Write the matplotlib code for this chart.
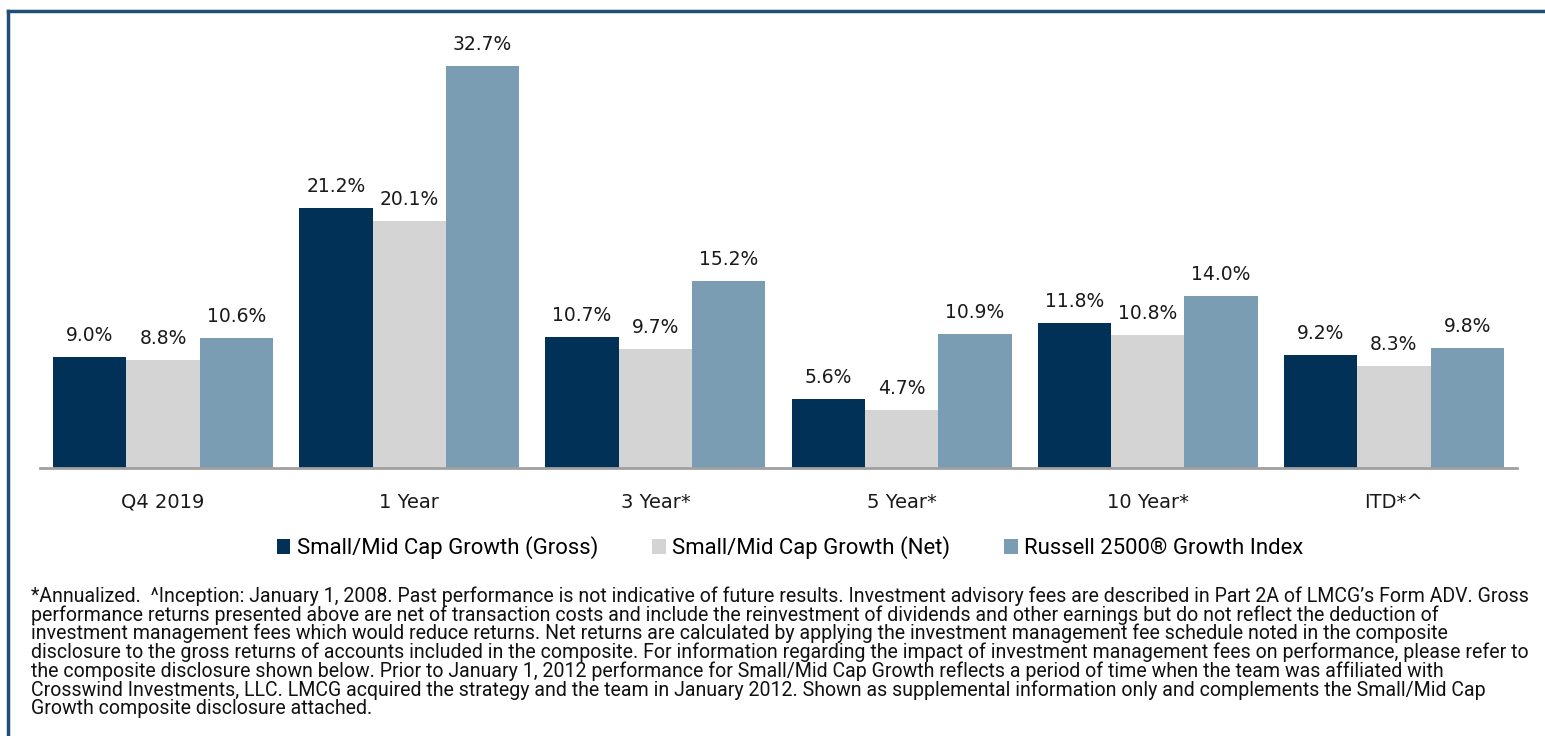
import numpy as np
import matplotlib.pyplot as plt
from matplotlib import font_manager
from matplotlib.lines import Line2D
from matplotlib.patches import Patch

categories = ["Q4 2019", "1 Year", "3 Year*", "5 Year*", "10 Year*", "ITD*^"]
gross = [9.0, 21.2, 10.7, 5.6, 11.8, 9.2]
net = [8.8, 20.1, 9.7, 4.7, 10.8, 8.3]
index = [10.6, 32.7, 15.2, 10.9, 14.0, 9.8]
series_names = [
    "Small/Mid Cap Growth (Gross)",
    "Small/Mid Cap Growth (Net)",
    "Russell 2500\u00ae Growth Index",
]
colors = ["#023158", "#d4d4d4", "#7a9db3"]

footnote = [
    "*Annualized.  ^Inception: January 1, 2008. Past performance is not indicative of future results. "
    "Investment advisory fees are described in Part 2A of LMCG\u2019s Form ADV. Gross",
    "performance returns presented above are net of transaction costs and include the reinvestment of "
    "dividends and other earnings but do not reflect the deduction of",
    "investment management fees which would reduce returns. Net returns are calculated by applying the "
    "investment management fee schedule noted in the composite",
    "disclosure to the gross returns of accounts included in the composite. For information regarding the "
    "impact of investment management fees on performance, please refer to",
    "the composite disclosure shown below. Prior to January 1, 2012 performance for Small/Mid Cap Growth "
    "reflects a period of time when the team was affiliated with",
    "Crosswind Investments, LLC. LMCG acquired the strategy and the team in January 2012. Shown as "
    "supplemental information only and complements the Small/Mid Cap",
    "Growth composite disclosure attached.",
]


def pick_font(names):
    for n in names:
        try:
            font_manager.findfont(n, fallback_to_default=False)
            return n
        except ValueError:
            pass
    return "DejaVu Sans"


narrow = pick_font(["Liberation Sans Narrow", "Roboto", "Open Sans"])

W, H = 1545, 736
fig = plt.figure(figsize=(W / 100, H / 100), dpi=100)

# axes placed in pixel terms of the reference
ax_left, ax_right, base_y, top_y = 40, 1517, 468, 38
ax = fig.add_axes([ax_left / W, (H - base_y) / H,
                   (ax_right - ax_left) / W, (base_y - top_y) / H])

x = np.arange(len(categories))
bw = 0.298
for i, (vals, c, name) in enumerate(zip([gross, net, index], colors, series_names)):
    bars = ax.bar(x + (i - 1) * bw, vals, bw, color=c, label=name)
    for b, v in zip(bars, vals):
        ax.annotate(f"{v:.1f}%", (b.get_x() + b.get_width() / 2, v),
                    xytext=(0, 12), textcoords="offset pixels",
                    ha="center", va="bottom", fontsize=13.5,
                    family="DejaVu Sans", color="#1a1a1a")

ax.set_xlim(-0.5, len(categories) - 0.5)
ax.set_ylim(0, 35)
ax.set_xticks(x)
ax.set_xticklabels(categories, fontsize=14, family="DejaVu Sans", color="#1a1a1a")
ax.tick_params(axis="x", length=0, pad=18)
ax.set_yticks([])
for s in ["top", "left", "right"]:
    ax.spines[s].set_visible(False)
ax.spines["bottom"].set_color("#a0a0a0")
ax.spines["bottom"].set_linewidth(2)

fig.canvas.draw()
renderer = fig.canvas.get_renderer()


def text_width(text, size):
    probe = fig.text(0, 0, text, fontsize=size, family=narrow)
    w = probe.get_window_extent(renderer).width
    probe.remove()
    return w


# legend sized to the reference: first entry text ~300 px, whole row 277..1304 px
leg_size = 12.0 * 300 / text_width(series_names[0], 12.0)
em_px = leg_size * 100 / 72
hl, htp = 0.62, 0.3
texts_w = sum(text_width(s, leg_size) for s in series_names)
gap_px = (1027 - texts_w - 3 * (hl + htp) * em_px) / 2
handles = [Patch(facecolor=c, edgecolor="none") for c in colors]
fig.legend(handles, series_names, loc="center", bbox_to_anchor=(790 / W, 1 - 548 / H),
           ncol=3, frameon=False, handlelength=hl, handleheight=0.62,
           handletextpad=htp, columnspacing=gap_px / em_px, borderpad=0,
           prop={"family": narrow, "size": leg_size})

# footnote, size fitted to the width of the reference text block
fn_size = 12.0 * 1490 / text_width(footnote[3], 12.0)
for i, line in enumerate(footnote):
    fig.text(31 / W, 1 - (596 + 18.8 * i) / H, line, fontsize=fn_size,
             family=narrow, va="center", ha="left", color="#111111")

# dark blue frame (top and left edges visible)
fig.add_artist(Line2D([8 / W, 1], [1 - 11 / H, 1 - 11 / H], transform=fig.transFigure,
                      color="#1f4e79", lw=2.5))
fig.add_artist(Line2D([8 / W, 8 / W], [0, 1 - 11 / H], transform=fig.transFigure,
                      color="#1f4e79", lw=2.5))

fig.savefig("out.png", dpi=100)
